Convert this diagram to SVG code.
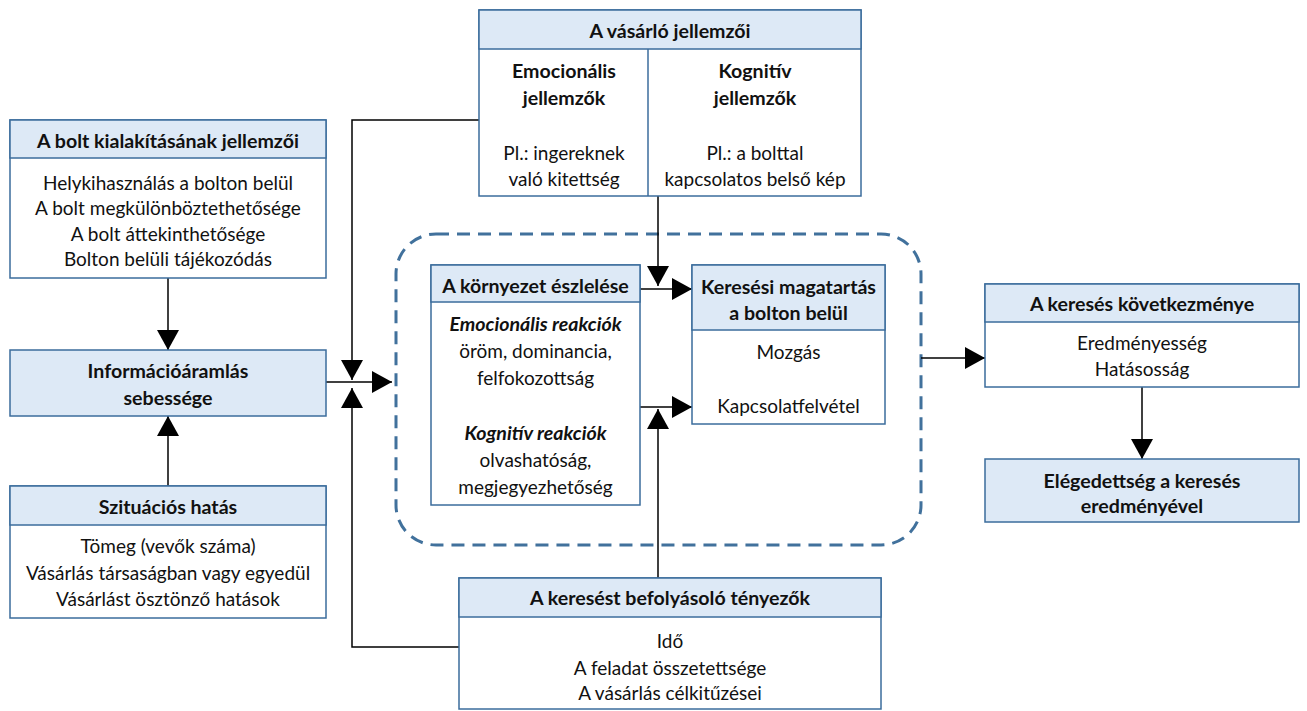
<svg xmlns="http://www.w3.org/2000/svg" width="1307" height="711" viewBox="0 0 1307 711">
  <style>
    .box { fill: #ffffff; stroke: #3b6c9c; stroke-width: 1.5; }
    .head { fill: #dde9f6; stroke: #3b6c9c; stroke-width: 1.5; }
    .sep { stroke: #3b6c9c; stroke-width: 1.5; }
    text { font-family: Lato, "Open Sans", sans-serif; font-size: 19px; fill: #111; text-anchor: middle; dominant-baseline: central; }
    .b { font-weight: bold; font-size: 19.6px; }
    .bi { font-weight: bold; font-style: italic; font-size: 19.6px; }
    .conn { fill: none; stroke: #000; stroke-width: 1.5; }
    .region { fill: none; stroke: #41719c; stroke-width: 3; stroke-dasharray: 13 8; }
  </style>
  <defs>
    <marker id="arrow" markerUnits="userSpaceOnUse" markerWidth="20" markerHeight="22" refX="20" refY="11" orient="auto">
      <path d="M0,0 L20,11 L0,22 Z" fill="#000"/>
    </marker>
  </defs>

  <rect width="1307" height="711" fill="#ffffff"/>

  <!-- dashed region around perception and search behaviour -->
  <rect class="region" x="396" y="234" width="525" height="311" rx="40" ry="40"/>

  <g id="connectors">
    <line class="conn" x1="168" y1="278" x2="168" y2="350" marker-end="url(#arrow)"/>
    <line class="conn" x1="168" y1="486" x2="168" y2="416" marker-end="url(#arrow)"/>
    <line class="conn" x1="326" y1="382" x2="392" y2="382" marker-end="url(#arrow)"/>
    <polyline class="conn" points="479,120 352,120 352,380" marker-end="url(#arrow)"/>
    <polyline class="conn" points="459,647 352,647 352,388" marker-end="url(#arrow)"/>
    <line class="conn" x1="658" y1="196" x2="658" y2="286" marker-end="url(#arrow)"/>
    <line class="conn" x1="640" y1="289" x2="692" y2="289" marker-end="url(#arrow)"/>
    <line class="conn" x1="640" y1="407" x2="692" y2="407" marker-end="url(#arrow)"/>
    <line class="conn" x1="658" y1="578" x2="658" y2="409" marker-end="url(#arrow)"/>
    <line class="conn" x1="921" y1="358" x2="985" y2="358" marker-end="url(#arrow)"/>
    <line class="conn" x1="1142" y1="387" x2="1142" y2="459" marker-end="url(#arrow)"/>
  </g>

  <g id="vasarlo-jellemzoi">
    <rect class="box" x="479" y="10" width="382" height="186"/>
    <rect class="head" x="479" y="10" width="382" height="39"/>
    <line class="sep" x1="648" y1="49" x2="648" y2="196"/>
    <text class="b" x="670" y="30">A vásárló jellemzői</text>
    <text class="b" x="564" y="70">Emocionális</text>
    <text class="b" x="564" y="97">jellemzők</text>
    <text x="564" y="152">Pl.: ingereknek</text>
    <text x="564" y="178">való kitettség</text>
    <text class="b" x="755" y="70">Kognitív</text>
    <text class="b" x="755" y="97">jellemzők</text>
    <text x="755" y="152">Pl.: a bolttal</text>
    <text x="755" y="178">kapcsolatos belső kép</text>
  </g>

  <g id="bolt-kialakitasa">
    <rect class="box" x="10" y="120" width="316" height="158"/>
    <rect class="head" x="10" y="120" width="316" height="38"/>
    <text class="b" x="168" y="140">A bolt kialakításának jellemzői</text>
    <text x="168" y="182">Helykihasználás a bolton belül</text>
    <text x="168" y="207">A bolt megkülönböztethetősége</text>
    <text x="168" y="233">A bolt áttekinthetősége</text>
    <text x="168" y="258">Bolton belüli tájékozódás</text>
  </g>

  <g id="informacioaramlas">
    <rect class="head" x="10" y="350" width="316" height="66"/>
    <text class="b" x="168" y="370">Információáramlás</text>
    <text class="b" x="168" y="397">sebessége</text>
  </g>

  <g id="szituacios-hatas">
    <rect class="box" x="10" y="486" width="316" height="132"/>
    <rect class="head" x="10" y="486" width="316" height="39"/>
    <text class="b" x="168" y="506">Szituációs hatás</text>
    <text x="168" y="545">Tömeg (vevők száma)</text>
    <text x="168" y="572">Vásárlás társaságban vagy egyedül</text>
    <text x="168" y="598">Vásárlást ösztönző hatások</text>
  </g>

  <g id="kornyezet-eszlelese">
    <rect class="box" x="431" y="265" width="209" height="240"/>
    <rect class="head" x="431" y="265" width="209" height="37"/>
    <text class="b" x="535.5" y="285">A környezet észlelése</text>
    <text class="bi" x="535.5" y="323">Emocionális  reakciók</text>
    <text x="535.5" y="350">öröm, dominancia,</text>
    <text x="535.5" y="377">felfokozottság</text>
    <text class="bi" x="535.5" y="432">Kognitív reakciók</text>
    <text x="535.5" y="459">olvashatóság,</text>
    <text x="535.5" y="486">megjegyezhetőség</text>
  </g>

  <g id="keresesi-magatartas">
    <rect class="box" x="692" y="265" width="193" height="159"/>
    <rect class="head" x="692" y="265" width="193" height="65"/>
    <text class="b" x="788.5" y="286">Keresési magatartás</text>
    <text class="b" x="788.5" y="312">a bolton belül</text>
    <text x="788.5" y="351">Mozgás</text>
    <text x="788.5" y="405">Kapcsolatfelvétel</text>
  </g>

  <g id="befolyasolo-tenyezok">
    <rect class="box" x="459" y="578" width="422" height="131"/>
    <rect class="head" x="459" y="578" width="422" height="39"/>
    <text class="b" x="670" y="597">A keresést befolyásoló tényezők</text>
    <text x="670" y="640">Idő</text>
    <text x="670" y="667">A feladat összetettsége</text>
    <text x="670" y="692">A vásárlás célkitűzései</text>
  </g>

  <g id="kereses-kovetkezmenye">
    <rect class="box" x="985" y="284" width="314" height="103"/>
    <rect class="head" x="985" y="284" width="314" height="38"/>
    <text class="b" x="1142" y="303">A keresés következménye</text>
    <text x="1142" y="342">Eredményesség</text>
    <text x="1142" y="368">Hatásosság</text>
  </g>

  <g id="elegedettseg">
    <rect class="head" x="985" y="459" width="314" height="63"/>
    <text class="b" x="1142" y="480">Elégedettség a keresés</text>
    <text class="b" x="1142" y="505">eredményével</text>
  </g>
</svg>
